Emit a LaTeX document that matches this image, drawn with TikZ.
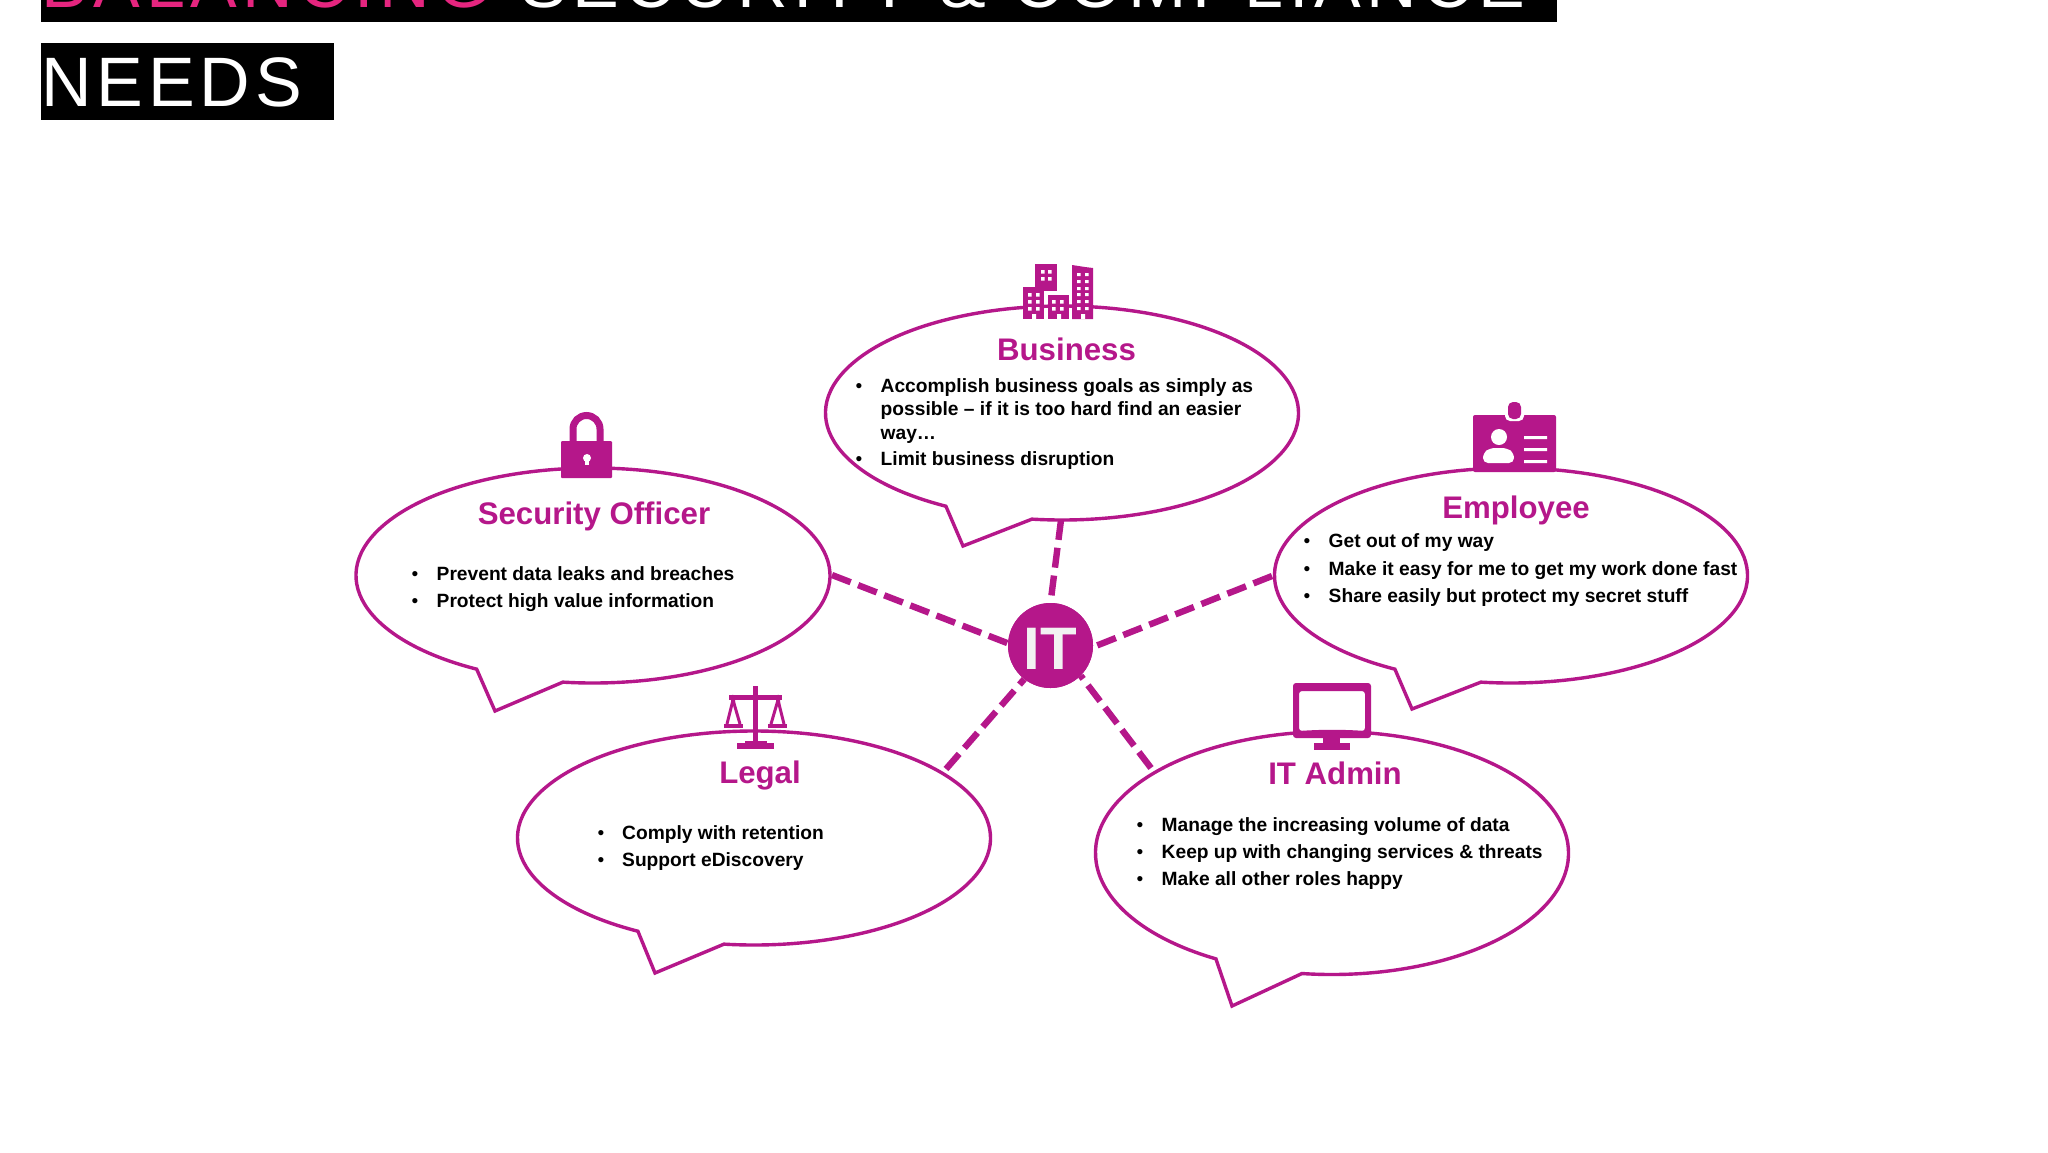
\documentclass[tikz,border=0pt]{standalone}
\usepackage{fontspec}
\setmainfont{Liberation Sans}
\newfontfamily\headfont[LetterSpace=7.9]{Liberation Sans}
\newfontfamily\headfontb[LetterSpace=6.8]{Liberation Sans}
\usetikzlibrary{calc,shapes.geometric}
\definecolor{mag}{HTML}{B5178A}
\definecolor{pinkt}{HTML}{E5257F}
\definecolor{offw}{HTML}{F2F2F2}
\tikzset{
  x=1pt,y=-1pt,
  bubbleline/.style={draw=mag,line width=3.4pt,line join=miter},
  anchorell/.style={ellipse,inner sep=0pt,outer sep=0pt},
  ttl/.style={text=mag,font=\fontsize{31.2}{31.2}\selectfont\bfseries,inner sep=0pt},
  itm/.style={text=black,font=\fontsize{19.2}{20}\selectfont\bfseries,anchor=base west,inner sep=0pt},
  bul/.style={text=black,font=\fontsize{19.2}{20}\selectfont,anchor=base,inner sep=0pt},
  dashlink/.style={draw=mag,line width=6.4pt,dash pattern=on 20pt off 8pt},
  icon/.style={fill=mag,draw=none},
  head/.style={font=\fontsize{70}{70}\selectfont\headfont,anchor=base west,inner sep=0pt},
  headb/.style={font=\fontsize{70}{70}\selectfont\headfontb,anchor=base west,inner sep=0pt},
}
% name, cx, cy, rx, ry, start t, end t, tipx, tipy
\newcommand{\speech}[9]{%
  \node[anchorell,minimum width=#4*2pt,minimum height=#5*2pt] (#1) at (#2,#3) {};
  \coordinate (#1tip) at (#8,#9);
  \draw[bubbleline] ($(#1.center)+(#6:#4 and #5)$) arc[start angle=#6,end angle=#7,x radius=#4,y radius=#5] -- (#1tip) -- cycle;
}
\newcommand{\bitem}[5]{%
  \node[bul] (#1b) at (#2,#4) {•};
  \node[itm] (#1) at (#3,#4) {#5};
}
\begin{document}
\begin{tikzpicture}
\useasboundingbox (0,0) rectangle (2048,1152);
\clip (0,0) rectangle (2048,1152);
\fill[white] (0,0) rectangle (2048,1152);
% heading
\fill[black] (41,-5) rectangle (1557,22);
\fill[black] (41,43) rectangle (334,120);
\node[head] (h1) at (41.5,7.5) {\textcolor{pinkt}{BALANCING} \hspace{5pt}\textcolor{white}{SECURITY \hspace{1.5pt}\& \hspace{1.5pt}COMPLIANCE}};
\node[headb,text=white] (h2) at (41.5,106) {NEEDS};
% bubbles
\speech{bus}{1062}{413}{236.5}{107}{119.4}{457.3}{963}{546}
\speech{sec}{593}{575.5}{237}{107.5}{119.4}{457.3}{495}{711}
\speech{emp}{1511}{575.5}{236.5}{107.5}{119.4}{457.3}{1412}{709}
\speech{leg}{754}{838}{236.5}{107}{119.4}{457.3}{655}{973}
\speech{adm}{1332}{853}{236.5}{121.5}{119.4}{457.3}{1232}{1006}
% centre
\node[circle,fill=mag,minimum size=85pt,inner sep=0pt] (it) at (1050.5,645.5) {};
\coordinate (cbus) at (1061,520);
\coordinate (csec) at (832,575);
\coordinate (cemp) at (1272,576);
\coordinate (cleg) at (946,769);
\coordinate (cadm) at (1151,768);
\draw[dashlink] (cbus) -- (it.90);
\draw[dashlink] (csec) -- (it.177);
\draw[dashlink] (cemp) -- (it.358);
\draw[dashlink] (cleg) -- (it.232);
\draw[dashlink] (cadm) -- (it.-45);
\node[circle,fill=mag,minimum size=85pt,inner sep=0pt] (itc) at (it.center) {};
\node[text=offw,inner sep=0pt,font=\fontsize{60}{60}\selectfont\bfseries] (itl) at (1050.5,648.5) {IT};
% titles
\node[ttl] (tbus) at (1066.5,349.5) {Business};
\node[ttl] (tsec) at (594,516.5) {Security Officer};
\node[ttl] (temp) at (1516,510) {Employee};
\node[ttl] (tleg) at (760,775.5) {Legal};
\node[ttl] (tadm) at (1335,773.5) {IT Admin};
% items
\bitem{b1}{859}{880.5}{392}{Accomplish business goals as simply as}
\node[itm] (b1a) at (880.5,415) {possible – if it is too hard find an easier};
\node[itm] (b1c) at (880.5,439) {way…};
\bitem{b2}{859}{880.5}{465}{Limit business disruption}
\bitem{s1}{415}{436.5}{580}{Prevent data leaks and breaches}
\bitem{s2}{415}{436.5}{607.5}{Protect high value information}
\bitem{e1}{1307}{1328.5}{547.5}{Get out of my way}
\bitem{e2}{1307}{1328.5}{575}{Make it easy for me to get my work done fast}
\bitem{e3}{1307}{1328.5}{602}{Share easily but protect my secret stuff}
\bitem{l1}{601}{622}{839}{Comply with retention}
\bitem{l2}{601}{622}{866}{Support eDiscovery}
\bitem{a1}{1140}{1161.5}{831}{Manage the increasing volume of data}
\bitem{a2}{1140}{1161.5}{858}{Keep up with changing services \& threats}
\bitem{a3}{1140}{1161.5}{885}{Make all other roles happy}
% building icon
\fill[icon] (1035,264) rectangle (1057,291);
\fill[icon] (1023,287) rectangle (1044,319);
\fill[icon] (1048,295) rectangle (1069,319);
\fill[icon] (1072,265) -- (1085,267) -- (1093,268) -- (1093,319) -- (1072,319) -- cycle;
\fill[white] (1041,270) rectangle +(3.5,3.5) (1048,270) rectangle +(3.5,3.5) (1041,277) rectangle +(3.5,3.5) (1048,277) rectangle +(3.5,3.5);
\foreach \yy in {293,300,307} {\fill[white] (1028,\yy) rectangle +(3.5,3.5) (1036,\yy) rectangle +(3.5,3.5);}
\foreach \yy in {300,307} {\fill[white] (1052,\yy) rectangle +(3.5,3.5) (1060,\yy) rectangle +(3.5,3.5);}
\foreach \yy in {273,280,287,293,300,307} {\fill[white] (1077,\yy) rectangle +(3.5,3) (1085,\yy) rectangle +(3.5,3);}
\fill[white] (1032,314) rectangle (1036,319) (1057,314) rectangle (1061,319) (1081,314) rectangle (1085,319);
% lock icon
\draw[mag,line width=7pt] (573,445) -- (573,429) arc[start angle=180,end angle=360,x radius=13.5,y radius=13.5] -- (600,445);
\fill[icon,rounded corners=1pt] (561,441) rectangle (612,478);
\fill[white] (587,458) circle[radius=4];
\fill[white] (585,459) rectangle (589,465);
% badge icon
\fill[icon,rounded corners=2pt] (1473,415) rectangle (1556,472);
\fill[white,rounded corners=5pt] (1505,400) rectangle (1524,421);
\fill[icon,rounded corners=5pt] (1508,402) rectangle (1521,419);
\fill[white] (1499,437) circle[radius=8];
\fill[white,rounded corners=5pt] (1483,463) -- (1483,453) -- (1490,448) -- (1507,448) -- (1514,453) -- (1514,463) -- cycle;
\fill[white] (1524,436) rectangle (1547,439) (1524,448) rectangle (1547,451) (1524,460) rectangle (1547,463);
% scales icon
\fill[icon] (753,686) rectangle (758,743);
\fill[icon] (729,695) rectangle (782,700);
\fill[icon] (737,743) rectangle (774,749);
\fill[icon] (745,741) rectangle (767,744);
\fill[icon] (724,724) rectangle (743,728);
\fill[icon] (768,724) rectangle (787,728);
\draw[mag,line width=3pt] (727,724) -- (733,700) -- (740,724);
\draw[mag,line width=3pt] (771,724) -- (778,700) -- (784,724);
\fill[icon] (731,699) rectangle (735,705) (776,699) rectangle (780,705);
% monitor icon
\fill[icon,rounded corners=3pt,even odd rule] (1293,683) rectangle (1371,738) (1299,691) rectangle (1365,731);
\fill[icon] (1323,738) rectangle (1340,743);
\fill[icon] (1314,743) rectangle (1350,750);
\end{tikzpicture}
\end{document}
